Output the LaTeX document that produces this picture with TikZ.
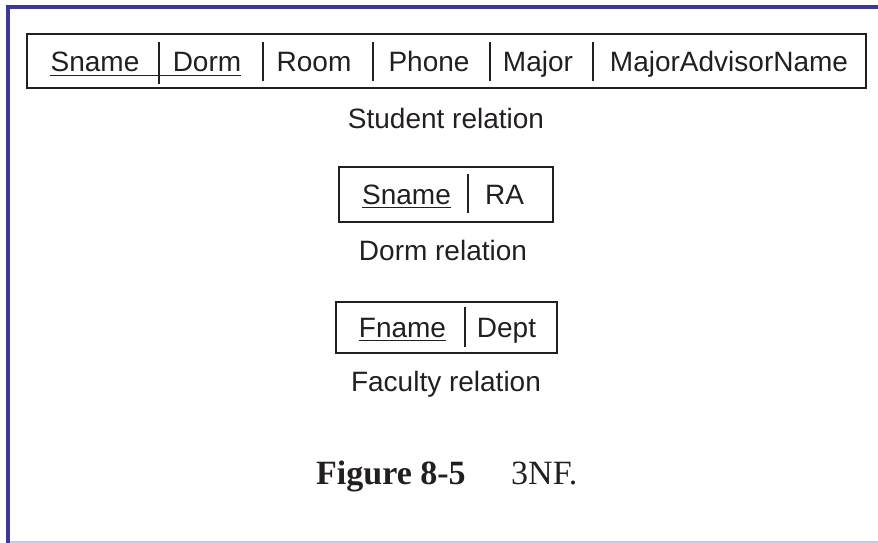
\documentclass[tikz,border=0pt]{standalone}
\usepackage{fontspec}
\setmainfont{Liberation Sans}
\newfontfamily\capserif{Liberation Serif}
\definecolor{ink}{HTML}{231F20}
\definecolor{frameblue}{HTML}{3A3A96}
\definecolor{framelight}{HTML}{C8C8E2}
\begin{document}
\begin{tikzpicture}[
    x=1pt, y=-1pt,
    every node/.style={inner sep=0pt, text=ink},
    attr/.style={font=\fontsize{28}{34}\selectfont, anchor=base},
    relbox/.style={draw=ink, line width=2pt, minimum height=#1},
    colsep/.style={draw=ink, line width=1.6pt},
    keysep/.style={draw=ink, line width=2.6pt},
    keyline/.style={draw=ink, line width=1.4pt},
    figlabel/.style={font=\capserif\fontsize{34}{40}\selectfont, anchor=base west}
]
\useasboundingbox (0,0) rectangle (878,543);
% cadre de la page
\fill[frameblue] (6,5) rectangle (878,9);
\fill[frameblue] (6,5) rectangle (10,543);
\fill[framelight] (10,541) rectangle (878,543);

% Student
\node[relbox=54pt, minimum width=839pt] (student) at (446.5,61) {};
\node[attr] (sname) at (95,72) {Sname};
\node[attr] (dorm) at (207,72) {Dorm};
\node[attr] (room) at (314,72) {Room};
\node[attr] (phone) at (429,72) {Phone};
\node[attr] (major) at (538,72) {Major};
\node[attr] (advisor) at (729,72) {MajorAdvisorName};
\draw[keyline] ([yshift=-3.5pt]sname.base west) -- ([yshift=-3.5pt]dorm.base east);
\draw[keysep] (159,42) -- (159,84);
\foreach \xs in {263,373,490,593}
    \draw[colsep] (\xs,42) -- (\xs,81);
\node[attr] (studentcap) at (446,128) {Student relation};

% Dorm
\node[relbox=55pt, minimum width=214pt] (dormrel) at (446,194.5) {};
\node[attr] (dsname) at (406.5,204) {Sname};
\node[attr] (ra) at (504.5,204) {RA};
\draw[keyline] ([yshift=-3.5pt]dsname.base west) -- ([yshift=-3.5pt]dsname.base east);
\draw[keysep] (468,174) -- (468,213);
\node[attr] (dormcap) at (443,260) {Dorm relation};

% Faculty
\node[relbox=51pt, minimum width=221pt] (faculty) at (446.5,327.5) {};
\node[attr] (fname) at (402.5,337) {Fname};
\node[attr] (dept) at (506.5,337) {Dept};
\draw[keyline] ([yshift=-3.5pt]fname.base west) -- ([yshift=-3.5pt]fname.base east);
\draw[colsep] (465,307) -- (465,347);
\node[attr] (facultycap) at (446,391) {Faculty relation};

% legende
\node[figlabel] (fignum) at (316,484) {\bfseries Figure 8-5};
\node[figlabel] (figtitle) at (511,484) {3NF.};
\end{tikzpicture}
\end{document}
